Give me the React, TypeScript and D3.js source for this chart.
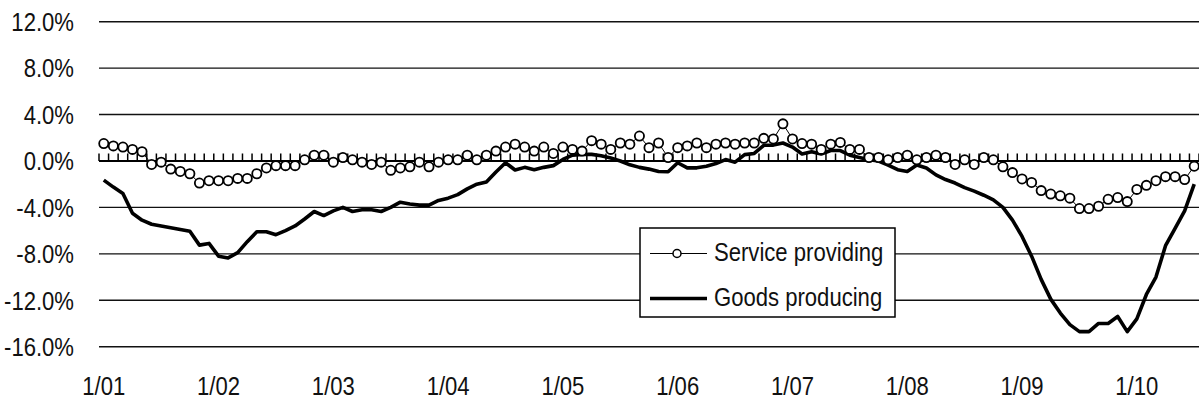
import React from 'react';
import * as d3 from 'd3';

// monthly categories, Jan 2001 .. Jul 2010
const months: Date[] = d3.timeMonth.range(new Date(2001, 0, 1), new Date(2010, 7, 1));
const tickLabels = ['1/01', '1/02', '1/03', '1/04', '1/05', '1/06', '1/07', '1/08', '1/09', '1/10'];
const yTicks = [12, 8, 4, 0, -4, -8, -12, -16];

// year-over-year % change
const serviceProviding = [
  1.5, 1.3, 1.2, 1.0, 0.8, -0.3, -0.1, -0.7, -0.9, -1.1,
  -1.9, -1.7, -1.7, -1.7, -1.5, -1.5, -1.1, -0.6, -0.4, -0.4,
  -0.4, 0.1, 0.5, 0.5, -0.1, 0.3, 0.1, -0.1, -0.3, -0.1,
  -0.8, -0.6, -0.5, -0.1, -0.5, -0.1, 0.1, 0.1, 0.5, 0.1,
  0.5, 0.85, 1.2, 1.45, 1.2, 0.85, 1.2, 0.65, 1.2, 1.0,
  0.85, 1.75, 1.45, 1.0, 1.55, 1.45, 2.15, 1.15, 1.55, 0.3,
  1.15, 1.3, 1.55, 1.15, 1.45, 1.55, 1.45, 1.55, 1.55, 1.95,
  1.9, 3.2, 1.9, 1.5, 1.45, 1.0, 1.45, 1.6, 1.0, 1.0,
  0.3, 0.3, 0.1, 0.3, 0.5, 0.1, 0.3, 0.5, 0.3, -0.3,
  0.1, -0.3, 0.3, 0.1, -0.5, -1.0, -1.55, -1.85, -2.55, -2.85,
  -3.0, -3.2, -4.1, -4.1, -3.9, -3.3, -3.15, -3.5, -2.45, -2.1,
  -1.7, -1.35, -1.35, -1.6, -0.45,
];

const goodsProducing = [
  -1.65, -2.25, -2.8, -4.5, -5.1, -5.45, -5.6, -5.75, -5.9, -6.05,
  -7.25, -7.1, -8.2, -8.35, -7.9, -6.95, -6.1, -6.1, -6.35, -6.0,
  -5.6, -5.0, -4.35, -4.7, -4.3, -4.0, -4.35, -4.2, -4.2, -4.35,
  -4.0, -3.55, -3.7, -3.8, -3.8, -3.4, -3.2, -2.9, -2.4, -2.0,
  -1.8, -0.95, -0.15, -0.78, -0.55, -0.75, -0.55, -0.4, 0.13, 0.5,
  0.57, 0.57, 0.45, 0.25, 0.0, -0.33, -0.55, -0.7, -0.9, -0.93,
  -0.15, -0.59, -0.59, -0.45, -0.22, 0.12, -0.1, 0.55, 0.65, 1.35,
  1.37, 1.55, 1.2, 0.6, 0.8, 0.6, 0.9, 0.9, 0.5, 0.3,
  0.1, 0.0, -0.35, -0.75, -0.9, -0.35, -0.6, -1.2, -1.6, -1.9,
  -2.3, -2.6, -2.95, -3.35, -4.0, -5.1, -6.5, -8.2, -10.2, -11.9,
  -13.1, -14.1, -14.7, -14.7, -14.0, -14.0, -13.4, -14.7, -13.6, -11.5,
  -10.0, -7.3, -5.8, -4.3, -2.0,
];

const seriesNames = ['Service providing', 'Goods producing'];

const W = 1199;
const H = 403;
const FONT = "'Liberation Sans', Arial, sans-serif";
const SX = 0.85; // horizontal squeeze to mimic a narrow face

// condensed text helper
const Txt: React.FC<{ x: number; y: number; anchor?: string; children: React.ReactNode }> = ({ x, y, anchor = 'start', children }) => (
  <text
    transform={`translate(${x},${y}) scale(${SX},1)`}
    textAnchor={anchor}
    fontFamily={FONT}
    fontSize={26}
    fill="#111"
  >
    {children}
  </text>
);

const App: React.FC = () => {
  const x = d3.scaleBand<number>()
    .domain(d3.range(months.length))
    .range([99, 1199])
    .padding(0);
  const bw = x.bandwidth();
  const cx = (i: number) => (x(i) as number) + bw / 2;

  const y = d3.scaleLinear().domain([-16, 12]).range([346.7, 21.7]);

  const line = d3.line<number>()
    .x((_, i) => cx(i))
    .y(d => y(d));

  const labelIdx = months
    .map((m, i) => (m.getMonth() === 0 ? i : -1))
    .filter(i => i >= 0);

  return (
    <svg width={W} height={H} style={{ position: 'absolute', left: 0, top: 0, background: '#fff' }}>
      {/* gridlines */}
      {yTicks.filter(t => t !== 0).map(t => (
        <line key={t} x1={99} x2={1199} y1={y(t)} y2={y(t)} stroke="#111" strokeWidth={1.4} />
      ))}

      {/* y labels */}
      {yTicks.map(t => (
        <Txt key={t} x={74} y={y(t) + 9.3} anchor="end">{t.toFixed(1)}%</Txt>
      ))}

      {/* category axis at 0 with tick marks */}
      <line x1={99} x2={1199} y1={y(0)} y2={y(0)} stroke="#000" strokeWidth={2.2} />
      {d3.range(months.length + 1).map(k => {
        const tx = 99 + k * bw;
        return <line key={k} x1={tx} x2={tx} y1={y(0)} y2={y(0) - 7.5} stroke="#000" strokeWidth={1.5} />;
      })}

      {/* x labels */}
      {labelIdx.map((i, j) => (
        <Txt key={i} x={cx(i)} y={395} anchor="middle">{tickLabels[j]}</Txt>
      ))}

      {/* goods producing */}
      <path d={line(goodsProducing) as string} fill="none" stroke="#000" strokeWidth={3.6} strokeLinejoin="round" />

      {/* service providing */}
      <path d={line(serviceProviding) as string} fill="none" stroke="#000" strokeWidth={1} />
      {serviceProviding.map((v, i) => (
        <circle key={i} cx={cx(i)} cy={y(v)} r={4.6} fill="#fff" stroke="#000" strokeWidth={1.8} />
      ))}

      {/* legend */}
      <g>
        <rect x={640} y={228} width={255} height={89} fill="#fff" stroke="#000" strokeWidth={1.5} />
        <line x1={650} x2={707} y1={253.5} y2={253.5} stroke="#000" strokeWidth={1.2} />
        <circle cx={677} cy={253.5} r={4} fill="#fff" stroke="#000" strokeWidth={1.5} />
        <Txt x={714} y={261}>{seriesNames[0]}</Txt>
        <line x1={650} x2={707} y1={298.5} y2={298.5} stroke="#000" strokeWidth={3.6} />
        <Txt x={714} y={306}>{seriesNames[1]}</Txt>
      </g>
    </svg>
  );
};

export default App;
